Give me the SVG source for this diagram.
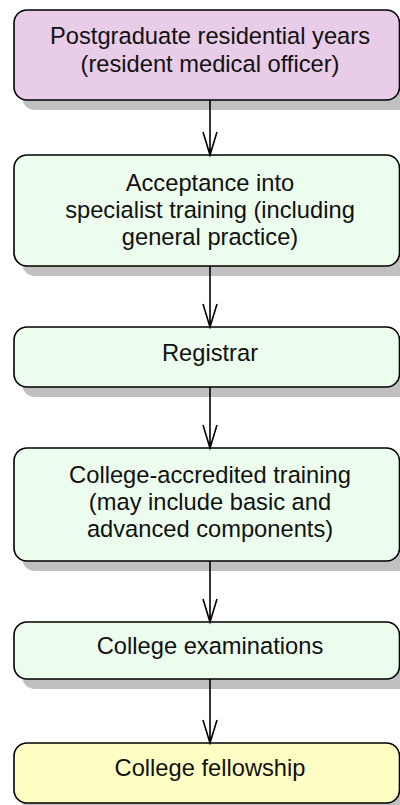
<svg xmlns="http://www.w3.org/2000/svg" width="400" height="805" viewBox="0 0 400 805">
<defs>
<style>
.sh{fill:#c0c0c0;stroke:none}
.box{stroke:#000;stroke-width:1.6}
.p{fill:#e8cce8}
.g{fill:#edfded}
.y{fill:#ffffc4}
.t{font-family:"Liberation Sans",Arial,sans-serif;font-size:23.7px;fill:#111;text-anchor:middle}
.c{stroke:#000;stroke-width:1.6;fill:none}
</style>
</defs>
<rect width="400" height="805" fill="#fff"/>
<g id="n1">
<rect class="sh" x="22" y="19" width="392" height="91" rx="13"/>
<rect class="box p" x="14" y="10" width="385.5" height="90" rx="13"/>
<text class="t" x="210" y="44">Postgraduate residential years</text>
<text class="t" x="210" y="72">(resident medical officer)</text>
</g>
<g id="n2">
<rect class="sh" x="22" y="164" width="392" height="112" rx="13"/>
<rect class="box g" x="14" y="155" width="385.5" height="111" rx="13"/>
<text class="t" x="210" y="191">Acceptance into</text>
<text class="t" x="210" y="218">specialist training (including</text>
<text class="t" x="210" y="245">general practice)</text>
</g>
<g id="n3">
<rect class="sh" x="22" y="336" width="392" height="61" rx="13"/>
<rect class="box g" x="14" y="327" width="385.5" height="60" rx="13"/>
<text class="t" x="210" y="361">Registrar</text>
</g>
<g id="n4">
<rect class="sh" x="22" y="457" width="392" height="114" rx="13"/>
<rect class="box g" x="14" y="448" width="385.5" height="113" rx="13"/>
<text class="t" x="210" y="483">College-accredited training</text>
<text class="t" x="210" y="510">(may include basic and</text>
<text class="t" x="210" y="537">advanced components)</text>
</g>
<g id="n5">
<rect class="sh" x="22" y="631" width="392" height="58" rx="13"/>
<rect class="box g" x="14" y="622" width="385.5" height="57" rx="13"/>
<text class="t" x="210" y="654">College examinations</text>
</g>
<g id="n6">
<rect class="sh" x="22" y="752" width="392" height="61" rx="13"/>
<rect class="box y" x="14" y="743" width="385.5" height="60" rx="13"/>
<text class="t" x="210" y="776">College fellowship</text>
</g>
<g id="connectors">
<path class="c" d="M210 100V155M203 132L210 155L217 132"/>
<path class="c" d="M210 266V327M203 304L210 327L217 304"/>
<path class="c" d="M210 387V448M203 425L210 448L217 425"/>
<path class="c" d="M210 561V622M203 599L210 622L217 599"/>
<path class="c" d="M210 679V743M203 720L210 743L217 720"/>
</g>
</svg>
